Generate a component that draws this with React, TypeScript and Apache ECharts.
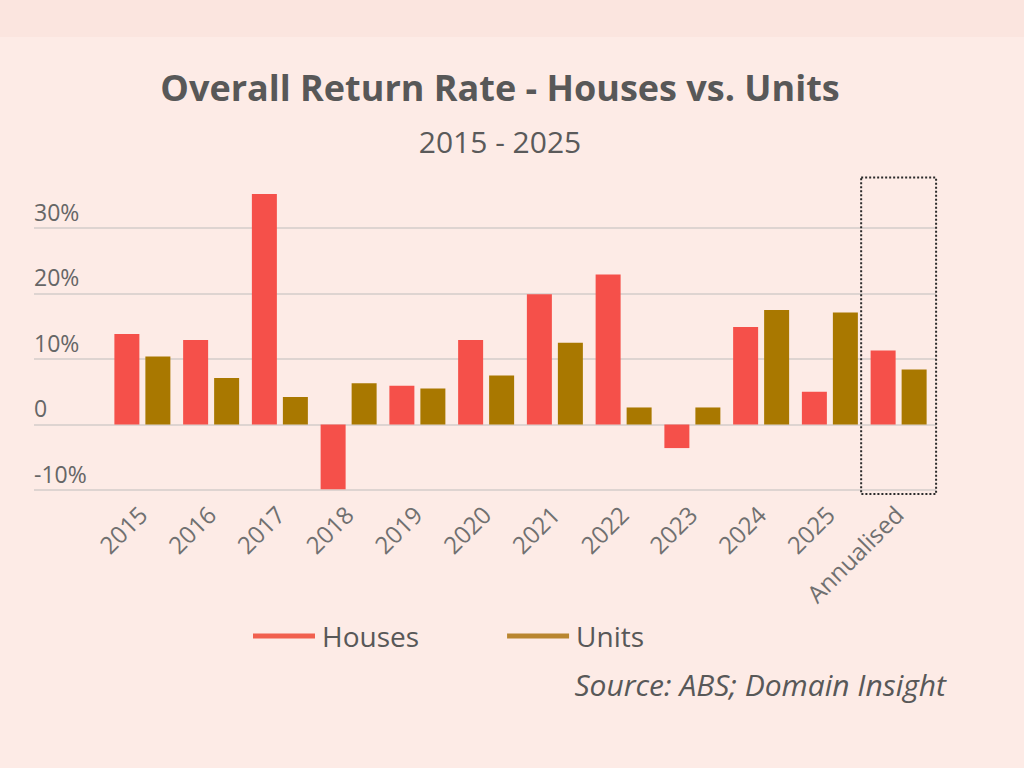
import React, { useEffect, useRef } from "react";
import * as echarts from "echarts";

const categories = ["2015", "2016", "2017", "2018", "2019", "2020", "2021", "2022", "2023", "2024", "2025", "Annualised"];
const houses = [13.8, 12.9, 35.2, -9.9, 5.9, 12.9, 19.9, 22.9, -3.6, 14.9, 5.0, 11.3];
const units = [10.4, 7.1, 4.2, 6.3, 5.5, 7.5, 12.5, 2.6, 2.6, 17.5, 17.1, 8.4];
const yTicks = [-10, 0, 10, 20, 30];
const highlightBox = [["Annualised", -10.6, 37.7]];

const FONT = "'Open Sans', 'Noto Sans', sans-serif";

export default function App() {
  const ref = useRef<HTMLDivElement>(null);
  useEffect(() => {
    if (!ref.current) return;
    const chart = echarts.init(ref.current, undefined, { renderer: "svg" });
    const yMin = yTicks[0];
    const yMax = yTicks[yTicks.length - 1];
    chart.setOption({
      animation: false,
      backgroundColor: "transparent",
      textStyle: { fontFamily: FONT },
      graphic: [
        {
          type: "text",
          x: 500,
          y: 87,
          style: {
            text: "Overall Return Rate - Houses vs. Units",
            fill: "#585858",
            font: `700 36px ${FONT}`,
            textAlign: "center",
            textVerticalAlign: "middle",
          },
        },
        {
          type: "text",
          x: 500,
          y: 141,
          style: {
            text: "2015 - 2025",
            fill: "#5a5a5a",
            font: `400 30px ${FONT}`,
            textAlign: "center",
            textVerticalAlign: "middle",
          },
        },
        {
          type: "text",
          x: 946,
          y: 684,
          style: {
            text: "Source: ABS; Domain Insight",
            fill: "#585858",
            font: `italic 400 30px ${FONT}`,
            textAlign: "right",
            textVerticalAlign: "middle",
          },
        },
      ],
      legend: {
        left: 248,
        top: 617,
        icon: "rect",
        itemWidth: 62,
        itemHeight: 5,
        itemGap: 88,
        textStyle: { fontSize: 28, color: "#585858", fontFamily: FONT, padding: [0, 0, 0, 2] },
        data: [
          { name: "Houses", itemStyle: { color: "#f1604f" } },
          { name: "Units", itemStyle: { color: "#b98630" } },
        ],
      },
      grid: [
        { left: 34, right: 88, top: 228, bottom: 278 },
        { left: 108, right: 91, top: 228, bottom: 278 },
      ],
      xAxis: [
        { type: "value", gridIndex: 0, show: false, min: 0, max: 1 },
        {
          type: "category",
          gridIndex: 1,
          data: categories,
          axisLine: { show: false },
          axisTick: { show: false },
          axisLabel: { rotate: 45, fontSize: 24, color: "#707070", margin: 20, interval: 0, fontFamily: FONT },
        },
      ],
      yAxis: [
        {
          type: "value",
          gridIndex: 0,
          min: yMin,
          max: yMax,
          interval: 10,
          axisLine: { show: false },
          axisTick: { show: false },
          splitLine: { lineStyle: { color: "#d3cdca", width: 1.5 } },
          axisLabel: {
            inside: true,
            margin: 0,
            verticalAlign: "bottom",
            padding: [0, 0, 5, 0],
            fontSize: 23,
            color: "#666",
            fontFamily: FONT,
            formatter: (v: number) => (v === 0 ? "0" : `${v}%`),
          },
        },
        { type: "value", gridIndex: 1, min: yMin, max: yMax, interval: 10, show: false, splitLine: { show: false } },
      ],
      series: [
        {
          name: "Houses",
          type: "bar",
          xAxisIndex: 1,
          yAxisIndex: 1,
          data: houses,
          barWidth: 25,
          barGap: "24%",
          clip: false,
          itemStyle: { color: "#f5504a" },
        },
        {
          name: "Units",
          type: "bar",
          xAxisIndex: 1,
          yAxisIndex: 1,
          data: units,
          barWidth: 25,
          clip: false,
          itemStyle: { color: "#a97800" },
        },
        {
          type: "custom",
          xAxisIndex: 1,
          yAxisIndex: 1,
          clip: false,
          silent: true,
          data: highlightBox,
          encode: { x: 0, y: [1, 2] },
          renderItem: (params: any, api: any) => {
            const idx = api.value(0);
            const bottom = api.coord([idx, api.value(1)]);
            const top = api.coord([idx, api.value(2)]);
            const w = api.size([1, 0])[0] * 1.09;
            return {
              type: "rect",
              shape: { x: top[0] - w / 2, y: top[1], width: w, height: bottom[1] - top[1] },
              style: { fill: "none", stroke: "#2a2a2a", lineWidth: 2, lineDash: [2, 2] },
            };
          },
        },
      ],
    });
    return () => chart.dispose();
  }, []);
  return (
    <div
      style={{
        position: "absolute",
        left: 0,
        top: 0,
        width: 1024,
        height: 768,
        background: "linear-gradient(to bottom, #fbe5df 0px, #fbe5df 37px, #fdebe6 37px, #fdebe6 100%)",
      }}
    >
      <div ref={ref} style={{ width: 1024, height: 768 }} />
    </div>
  );
}
